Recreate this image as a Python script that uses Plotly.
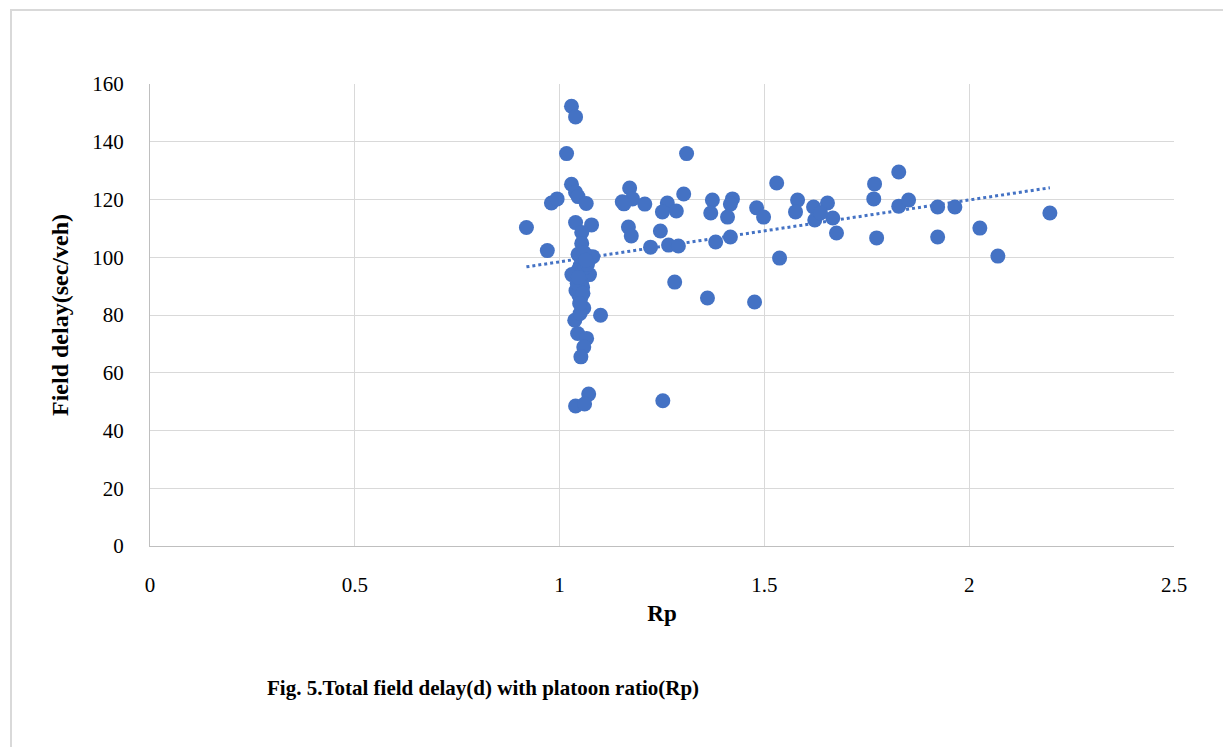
import numpy as np
import plotly.graph_objects as go

# Platoon ratio (Rp) and field delay (sec/veh)
rp = [
    0.919, 0.970, 0.980, 0.994, 1.017, 1.029, 1.039, 1.029, 1.039, 1.045,
    1.065, 1.039, 1.078, 1.054, 1.054, 1.052, 1.071, 1.081, 1.045, 1.060,
    1.065, 1.050, 1.045, 1.058, 1.030, 1.054, 1.073, 1.054, 1.047, 1.040,
    1.059, 1.037, 1.100, 1.044, 1.066, 1.059, 1.052, 1.071, 1.039, 1.061,
    1.050, 1.252,
    1.048, 1.056, 1.062, 1.043, 1.051, 1.068, 1.046, 1.057, 1.064, 1.049,
    1.310, 1.171, 1.153, 1.178, 1.208, 1.263, 1.303, 1.251, 1.285, 1.373,
    1.422, 1.417, 1.369, 1.410, 1.481, 1.498, 1.530, 1.168, 1.175, 1.246,
    1.222, 1.266, 1.290, 1.381, 1.417, 1.537, 1.281, 1.361, 1.476, 1.157,
    1.581, 1.576, 1.620, 1.623, 1.654, 1.667, 1.637, 1.676, 1.769, 1.767,
    1.774, 1.828, 1.828, 1.852, 1.923, 1.923, 1.965, 2.026, 2.070, 2.197,
]
delay = [
    110.3, 102.3, 118.8, 120.2, 135.9, 152.3, 148.6, 125.3, 122.5, 121.0,
    118.6, 112.0, 111.2, 108.6, 104.8, 100.0, 100.3, 100.2, 101.0, 101.5,
    98.0, 97.0, 95.5, 96.0, 94.0, 94.7, 94.0, 90.7, 86.9, 88.5,
    82.4, 78.2, 79.9, 73.6, 71.9, 68.9, 65.5, 52.6, 48.5, 49.2,
    80.5, 50.3,
    92.0, 89.5, 96.5, 91.0, 85.5, 97.5, 93.0, 87.5, 99.0, 84.0,
    135.9, 124.0, 119.2, 120.2, 118.4, 118.8, 121.9, 115.7, 116.0, 119.8,
    120.2, 118.4, 115.3, 113.9, 117.1, 113.9, 125.7, 110.5, 107.4, 109.1,
    103.5, 104.2, 103.9, 105.3, 107.0, 99.7, 91.4, 85.9, 84.5, 118.5,
    119.8, 115.7, 117.4, 112.9, 118.8, 113.6, 115.3, 108.4, 125.4, 120.2,
    106.7, 129.5, 117.7, 119.8, 117.4, 107.0, 117.4, 110.1, 100.4, 115.3,
]

x_ticks = [0, 0.5, 1, 1.5, 2, 2.5]
x_tick_text = ["0", "0.5", "1", "1.5", "2", "2.5"]
y_ticks = [0, 20, 40, 60, 80, 100, 120, 140, 160]

blue = "#4472C4"
font_family = "Liberation Serif, Times New Roman, serif"

# linear trendline (least squares) over the data
slope, intercept = np.polyfit(rp, delay, 1)
tx = np.array([min(rp), max(rp)])
ty = slope * tx + intercept

fig = go.Figure()
fig.add_trace(go.Scatter(
    x=tx, y=ty, mode="lines",
    line=dict(color=blue, width=3, dash="dot"),
    hoverinfo="skip", showlegend=False,
))
fig.add_trace(go.Scatter(
    x=rp, y=delay, mode="markers",
    marker=dict(color=blue, size=15, line=dict(width=0)),
    showlegend=False,
))

# page body adds an 8px offset; compensate so the picture lands in place
OFF = 8
W, H = 1231 - OFF, 747 - OFF
L, R, T, B = 150 - OFF, 1174 - OFF, 84 - OFF, 546 - OFF
pw, ph = R - L, B - T


def px_x(p):
    return (p - OFF - L) / pw


def px_y(p):
    return (B - (p - OFF)) / ph


fig.update_layout(
    width=W, height=H,
    margin=dict(l=L, r=W - R, t=T, b=H - B),
    paper_bgcolor="white", plot_bgcolor="white",
    font=dict(family=font_family, color="black", size=21),
    xaxis=dict(
        range=[0, 2.5], tickvals=x_ticks, ticktext=x_tick_text,
        showgrid=True, gridcolor="#d9d9d9", gridwidth=1,
        showline=True, linecolor="#bfbfbf", linewidth=1,
        zeroline=False, ticks="", ticklabelstandoff=20,
        tickfont=dict(size=21),
        title=dict(text="<b>Rp</b>", font=dict(size=23), standoff=8),
    ),
    yaxis=dict(
        range=[0, 160], tickvals=y_ticks,
        showgrid=True, gridcolor="#d9d9d9", gridwidth=1,
        showline=True, linecolor="#bfbfbf", linewidth=1,
        zeroline=False, ticks="", ticklabelstandoff=21,
        tickfont=dict(size=21),
        title=dict(text="<b>Field delay(sec/veh)</b>", font=dict(size=24), standoff=16),
    ),
    shapes=[
        dict(type="rect", xref="paper", yref="paper",
             x0=px_x(11), x1=px_x(1226), y0=px_y(10), y1=px_y(760),
             line=dict(color="#d9d9d9", width=2), layer="below"),
    ],
    annotations=[
        dict(text="<b>Fig. 5.Total field delay(d) with platoon ratio(Rp)</b>",
             xref="paper", yref="paper", x=px_x(483), y=px_y(688),
             xanchor="center", yanchor="middle", showarrow=False,
             font=dict(size=21, family=font_family)),
    ],
)

fig.write_html("out.html")
